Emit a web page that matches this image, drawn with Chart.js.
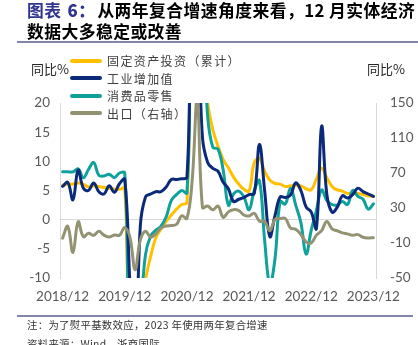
<!DOCTYPE html>
<html>
<head>
<meta charset="utf-8">
<script src="https://cdn.jsdelivr.net/npm/chart.js@4.4.1/dist/chart.umd.min.js"></script>
<style>
body{margin:0;background:#fff;width:418px;height:345px;overflow:hidden;position:relative;font-family:"Noto Sans CJK SC",sans-serif;}
#c{position:absolute;left:0;top:0;}
.t{position:absolute;white-space:nowrap;}
.title{left:27px;top:0;font-size:16.8px;font-weight:bold;line-height:21px;letter-spacing:0.45px;color:#000;}
.title span{color:#30358f;}
.title b{margin-left:6px;margin-right:2px;}
.rule{position:absolute;left:17px;height:2px;background:#8585ab;}
.lg{position:absolute;left:70px;width:32px;height:4px;border-radius:2px;}
.lgt{left:107px;font-size:12px;letter-spacing:1.4px;line-height:17px;color:#404040;}
.unit{font-size:13px;line-height:17px;color:#262626;}
.note{left:27px;font-size:10.4px;letter-spacing:0.3px;line-height:14px;color:#333;}
</style>
</head>
<body>
<canvas id="c" width="418" height="345"></canvas>

<div class="t title"><span>图表<b>6：</b></span>从两年复合增速角度来看，12 月实体经济<br>数据大多稳定或改善</div>
<div class="rule" style="top:41px;width:401px"></div>

<div class="lg" style="top:59px;background:#ffc000"></div>
<div class="t lgt" style="top:52px">固定资产投资（累计）</div>
<div class="lg" style="top:76px;background:#0b2a7a"></div>
<div class="t lgt" style="top:69.5px">工业增加值</div>
<div class="lg" style="top:94px;background:#10a19c"></div>
<div class="t lgt" style="top:87px">消费品零售</div>
<div class="lg" style="top:111px;background:#939272"></div>
<div class="t lgt" style="top:104.5px">出口（右轴）</div>

<div class="t unit" style="left:31px;top:60px">同比%</div>
<div class="t unit" style="left:367px;top:60px">同比%</div>

<div class="rule" style="top:315px;width:396px;height:1.5px"></div>
<div class="t note" style="top:318px">注：为了熨平基数效应，2023 年使用两年复合增速</div>
<div class="t note" style="top:337px">资料来源：Wind，浙商国际</div>

<script>
// months 2018/12 .. 2023/12
var months = [];
for (var yr = 2018; yr <= 2023; yr++) {
    for (var m = 1; m <= 12; m++) {
        if (yr === 2018 && m < 12) continue;
        months.push(yr + "/" + (m < 10 ? "0" + m : m));
    }
}

// 固定资产投资（累计）同比
var fai = [5.9,
    6.1, 6.1, 6.3, 6.1, 5.6, 5.8, 5.7, 5.5, 5.4, 5.2, 5.2, 5.4,
    -24.5, -24.5, -16.1, -10.3, -6.3, -3.1, -1.6, -0.3, 0.8, 1.8, 2.6, 2.9,
    35.0, 35.0, 25.6, 19.9, 15.4, 12.6, 10.3, 8.9, 7.3, 6.1, 5.2, 4.9,
    9.8, 10.5, 8.3, 6.8, 6.2, 6.1, 5.7, 5.8, 5.9, 5.8, 5.3, 5.1,
    7.0, 8.8, 7.2, 5.7, 5.1, 4.9, 4.5, 4.5, 4.5, 4.3, 4.1, 4.0];

// 工业增加值 同比
var industry = [5.7,
    6.4, 3.4, 8.5, 5.4, 5.0, 6.3, 4.8, 4.4, 5.8, 4.7, 6.2, 6.9,
    -11.0, -25.9, -1.1, 3.9, 4.4, 4.8, 4.8, 5.6, 6.9, 6.9, 7.0, 7.3,
    35.1, 35.1, 14.1, 9.8, 8.8, 8.3, 6.4, 5.3, 3.1, 3.5, 3.8, 4.3,
    4.5, 12.9, 5.0, -2.9, 0.7, 3.9, 3.8, 4.2, 6.3, 5.0, 2.2, 1.3,
    -1.5, 16.0, 4.4, 1.3, 2.1, 4.1, 3.7, 4.3, 5.4, 4.8, 4.4, 4.0];

// 消费品零售 同比
var retail = [8.2,
    8.2, 8.2, 8.7, 7.2, 8.6, 9.8, 7.6, 7.5, 7.8, 7.2, 8.0, 8.0,
    -20.5, -20.5, -15.8, -6.0, -2.8, -1.8, -1.1, 0.5, 3.3, 4.3, 5.0, 4.6,
    33.8, 33.8, 34.2, 17.7, 12.4, 12.1, 8.5, 2.5, 4.4, 4.9, 3.9, 1.7,
    5.0, 6.7, -3.5, -11.1, -6.7, 3.1, 2.7, 5.4, 2.5, -0.5, -5.9, -1.8,
    1.6, 5.1, 3.3, 2.6, 2.5, 3.1, 2.6, 5.0, 4.0, 3.5, 1.8, 2.7];

// 出口 同比（右轴）
var exports = [-4.4,
    9.1, -20.8, 14.2, -2.7, 1.1, -1.3, 3.3, -1.0, -3.2, -0.9, -1.1, 7.6,
    -3.5, -40.6, -6.6, 3.5, -3.3, 0.5, 7.2, 9.5, 9.9, 11.4, 21.1, 18.1,
    60.6, 154.9, 30.6, 32.3, 27.9, 32.2, 19.3, 25.6, 28.1, 27.1, 22.0, 20.9,
    24.0, 15.0, 14.7, 3.9, 16.9, 17.9, 18.0, 7.1, 5.7, -0.3, -8.7, -9.9,
    -1.0, 4.1, 14.7, 6.2, 4.0, 1.6, 0.4, -1.2, -0.4, -3.4, -4.2, -4.0];

var tickFont = {family: "Lato", size: 13.5};
var tickColor = "#595959";

function line(label, data, color, axis, order) {
    return {
        label: label,
        data: data,
        yAxisID: axis,
        borderColor: color,
        backgroundColor: color,
        borderWidth: 3,
        pointRadius: 0,
        tension: 0.4,
        borderJoinStyle: "round",
        borderCapStyle: "round",
        fill: false,
        order: order
    };
}

new Chart(document.getElementById("c"), {
    type: "line",
    data: {
        labels: months,
        datasets: [
            line("固定资产投资（累计）", fai, "#ffc000", "y", 3),
            line("工业增加值", industry, "#0b2a7a", "y", 1),
            line("消费品零售", retail, "#10a19c", "y", 2),
            line("出口（右轴）", exports, "#939272", "y1", 0)
        ]
    },
    options: {
        responsive: false,
        animation: false,
        layout: {padding: {top: 103, left: 0, right: 0, bottom: 0}},
        plugins: {legend: {display: false}, tooltip: {enabled: false}},
        scales: {
            x: {
                offset: true,
                grid: {display: false, drawTicks: false},
                border: {display: false},
                ticks: {
                    autoSkip: false, maxRotation: 0, padding: 11,
                    color: tickColor, font: tickFont,
                    callback: function (v) {
                        var l = this.getLabelForValue(v);
                        return l.slice(-3) === "/12" ? l : "";
                    }
                },
                afterFit: function (s) { s.height = 67; }
            },
            y: {
                position: "left",
                min: -10, max: 20,
                ticks: {stepSize: 5, padding: 10, color: tickColor, font: tickFont},
                grid: {
                    drawTicks: false,
                    color: function (ctx) {
                        return ctx.tick && ctx.tick.value === 0 ? "#d9d9d9" : "rgba(0,0,0,0)";
                    }
                },
                border: {display: true, color: "#d9d9d9"},
                afterFit: function (s) { s.width = 60; }
            },
            y1: {
                position: "right",
                min: -50, max: 150,
                ticks: {stepSize: 20, padding: 14, color: tickColor, font: tickFont},
                grid: {drawTicks: false, color: "rgba(0,0,0,0)"},
                border: {display: true, color: "#d9d9d9"},
                afterFit: function (s) { s.width = 42; }
            }
        }
    }
});
</script>
</body>
</html>
